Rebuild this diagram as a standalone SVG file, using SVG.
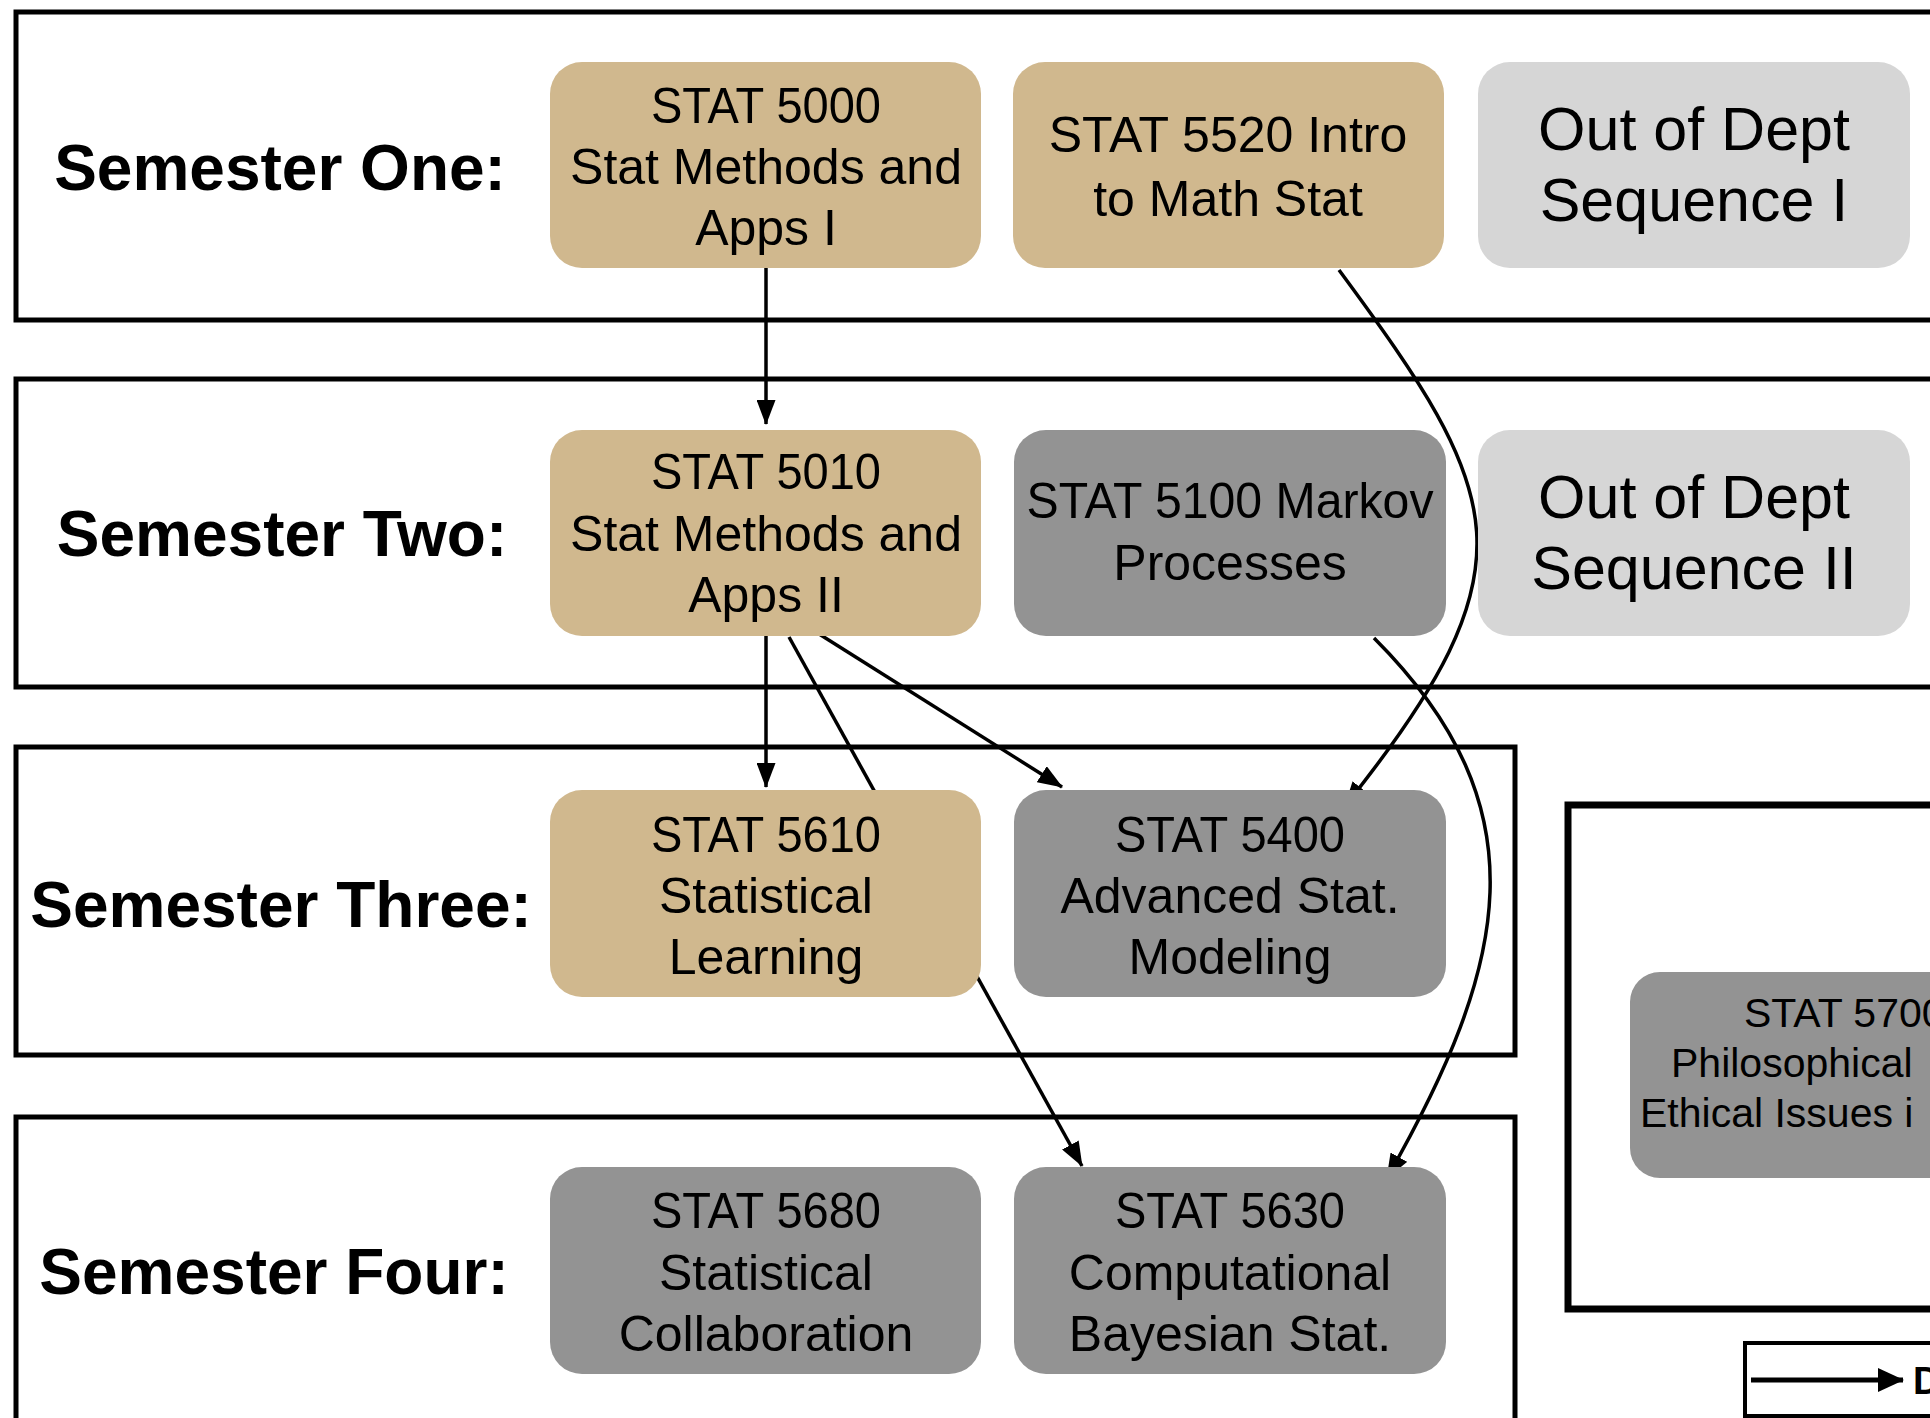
<svg xmlns="http://www.w3.org/2000/svg" width="1930" height="1418" viewBox="0 0 1930 1418">
<defs>
<style>
.sem{fill:none;stroke:#000;stroke-width:5}
.lbl{font-family:"Liberation Sans",Arial,sans-serif;font-weight:bold;font-size:64px;fill:#000;text-anchor:middle}
.tan{fill:#D0B88E}
.dark{fill:#939393}
.light{fill:#D6D6D6}
.t{font-family:"Liberation Sans",Arial,sans-serif;font-size:50px;fill:#000;text-anchor:middle}
.tb{font-family:"Liberation Sans",Arial,sans-serif;font-size:61px;fill:#000;text-anchor:middle}
.c{fill:none;stroke:#000;stroke-width:3.5}
</style>
<marker id="ah" markerUnits="userSpaceOnUse" markerWidth="25" markerHeight="19" viewBox="0 0 25 19" refX="24" refY="9.5" orient="auto">
<path d="M0,0 L25,9.5 L0,19 z" fill="#000"/>
</marker>
<marker id="ahL" markerUnits="userSpaceOnUse" markerWidth="26" markerHeight="24" viewBox="0 0 26 24" refX="25" refY="12" orient="auto">
<path d="M0,0 L26,12 L0,24 z" fill="#000"/>
</marker>
</defs>
<rect width="1930" height="1418" fill="#fff"/>

<g id="semester-frames">
<rect class="sem" x="16" y="12" width="1940" height="308"/>
<rect class="sem" x="16" y="379" width="1940" height="308"/>
<rect class="sem" x="16" y="747" width="1499" height="308"/>
<rect class="sem" x="16" y="1117" width="1499" height="340"/>
<rect fill="none" stroke="#000" stroke-width="7" x="1568" y="805" width="400" height="504"/>
</g>

<g id="semester-labels">
<text class="lbl" x="280" y="190">Semester One:</text>
<text class="lbl" x="282" y="556">Semester Two:</text>
<text class="lbl" x="281" y="927">Semester Three:</text>
<text class="lbl" x="274" y="1294">Semester Four:</text>
</g>

<g id="connectors">
<line class="c" x1="766" y1="268" x2="766" y2="424" marker-end="url(#ah)"/>
<path class="c" d="M1339,270 C1505,495 1538,565 1345,806" marker-end="url(#ah)"/>
<line class="c" x1="766" y1="625" x2="766" y2="787" marker-end="url(#ah)"/>
<line class="c" x1="789" y1="637" x2="1082" y2="1166" marker-end="url(#ah)"/>
<line class="c" x1="808" y1="627" x2="1062" y2="787" marker-end="url(#ah)"/>
<path class="c" d="M1374,638 C1545,809 1508,965 1387,1178" marker-end="url(#ah)"/>
</g>

<g id="stat5000">
<rect class="tan" x="550" y="62" width="431" height="206" rx="32"/>
<text class="t" x="766" y="123" textLength="230" lengthAdjust="spacingAndGlyphs">STAT 5000</text>
<text class="t" x="766" y="184">Stat Methods and</text>
<text class="t" x="766" y="245">Apps I</text>
</g>
<g id="stat5520">
<rect class="tan" x="1013" y="62" width="431" height="206" rx="32"/>
<text class="t" x="1228" y="152">STAT 5520 Intro</text>
<text class="t" x="1228" y="216">to Math Stat</text>
</g>
<g id="outdept1">
<rect class="light" x="1478" y="62" width="432" height="206" rx="32"/>
<text class="tb" x="1694" y="150">Out of Dept</text>
<text class="tb" x="1694" y="221">Sequence I</text>
</g>

<g id="stat5010">
<rect class="tan" x="550" y="430" width="431" height="206" rx="32"/>
<text class="t" x="766" y="489" textLength="230" lengthAdjust="spacingAndGlyphs">STAT 5010</text>
<text class="t" x="766" y="551">Stat Methods and</text>
<text class="t" x="766" y="612">Apps II</text>
</g>
<g id="stat5100">
<rect class="dark" x="1014" y="430" width="432" height="206" rx="32"/>
<text class="t" x="1230" y="518" textLength="407" lengthAdjust="spacingAndGlyphs">STAT 5100 Markov</text>
<text class="t" x="1230" y="580">Processes</text>
</g>
<g id="outdept2">
<rect class="light" x="1478" y="430" width="432" height="206" rx="32"/>
<text class="tb" x="1694" y="518">Out of Dept</text>
<text class="tb" x="1694" y="589">Sequence II</text>
</g>

<g id="stat5610">
<rect class="tan" x="550" y="790" width="431" height="207" rx="32"/>
<text class="t" x="766" y="852" textLength="230" lengthAdjust="spacingAndGlyphs">STAT 5610</text>
<text class="t" x="766" y="913">Statistical</text>
<text class="t" x="766" y="974">Learning</text>
</g>
<g id="stat5400">
<rect class="dark" x="1014" y="790" width="432" height="207" rx="32"/>
<text class="t" x="1230" y="852" textLength="230" lengthAdjust="spacingAndGlyphs">STAT 5400</text>
<text class="t" x="1230" y="913">Advanced Stat.</text>
<text class="t" x="1230" y="974">Modeling</text>
</g>

<g id="stat5680">
<rect class="dark" x="550" y="1167" width="431" height="207" rx="32"/>
<text class="t" x="766" y="1228" textLength="230" lengthAdjust="spacingAndGlyphs">STAT 5680</text>
<text class="t" x="766" y="1290">Statistical</text>
<text class="t" x="766" y="1351">Collaboration</text>
</g>
<g id="stat5630">
<rect class="dark" x="1014" y="1167" width="432" height="207" rx="32"/>
<text class="t" x="1230" y="1228" textLength="230" lengthAdjust="spacingAndGlyphs">STAT 5630</text>
<text class="t" x="1230" y="1290">Computational</text>
<text class="t" x="1230" y="1351">Bayesian Stat.</text>
</g>

<g id="stat5700">
<rect class="dark" x="1630" y="972" width="400" height="206" rx="30"/>
<text font-family="Liberation Sans, Arial, sans-serif" font-size="41" x="1744" y="1027">STAT 5700</text>
<text font-family="Liberation Sans, Arial, sans-serif" font-size="41" x="1671" y="1077">Philosophical</text>
<text font-family="Liberation Sans, Arial, sans-serif" font-size="41" x="1640" y="1127">Ethical Issues i</text>
</g>

<g id="legend">
<rect fill="none" stroke="#000" stroke-width="4" x="1745" y="1343" width="260" height="73"/>
<line x1="1751" y1="1380" x2="1903" y2="1380" stroke="#000" stroke-width="5" marker-end="url(#ahL)"/>
<text font-family="Liberation Sans, Arial, sans-serif" font-weight="bold" font-size="38" x="1913" y="1394">D</text>
</g>
</svg>
